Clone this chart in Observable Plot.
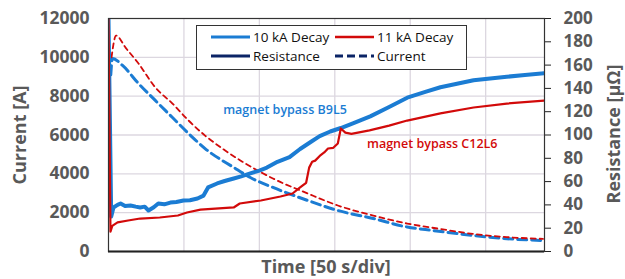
<!DOCTYPE html>
<html><head><meta charset="utf-8">
<script src="https://cdn.jsdelivr.net/npm/d3@7"></script>
<script src="https://cdn.jsdelivr.net/npm/@observablehq/plot@0.6"></script>
<style>
body{margin:0;background:#fff;}
#chart{position:relative;width:625px;height:279px;font-family:"Open Sans",sans-serif;}
</style></head><body><div id="chart"></div>
<script>
// Time in seconds (50 s per division)
const tBlueCur = [1.5, 2.6, 9.3, 19.9, 31, 42.4, 53, 64, 83, 94, 109, 132, 152, 175.5, 198, 215, 242, 264, 288];
const blueCur  = [9100, 9940, 9580, 8650, 7780, 6900, 6080, 5300, 4330, 3810, 3300, 2630, 2110, 1700, 1260, 1080, 824, 660, 567];

const tRedCur = [2, 5, 11.3, 19.9, 31, 42.4, 53, 64, 75.5, 87.4, 109, 132, 152, 175.5, 198, 220, 242, 264, 288];
const redCur  = [10000, 11120, 10500, 9680, 8450, 7620, 6750, 5970, 5300, 4690, 3760, 2990, 2370, 1850, 1440, 1160, 900, 740, 650];

// Resistance in micro-ohm
const tBlueRes = [0, 1.8, 3.3, 6, 8, 11, 14.6, 18, 21, 24, 26.5, 30, 33, 37, 41, 45, 49.7, 54, 59, 63, 66, 72, 77, 83, 88, 94, 100, 105, 112, 120, 127, 134, 140, 147, 154, 162, 173.5, 186, 198, 210, 220, 231, 242, 253, 264, 276, 289];
const blueRes  = [200, 30, 37.8, 40, 41.2, 39, 39.5, 38.5, 37.8, 38.5, 35.2, 38, 41.2, 40.5, 42, 42.5, 43.8, 44, 45.5, 48, 55, 58.4, 60.5, 62.7, 64.5, 67, 69.5, 72, 77, 81, 88, 94, 99, 103, 106, 110, 116, 124, 132, 137, 141, 144, 147, 148.5, 150, 151.5, 153];

const tRedRes = [0, 1.3, 2.5, 6, 13, 21, 34, 46, 52, 61, 83, 87, 101, 114, 122, 127, 131, 133, 135, 137, 140, 143, 145.5, 149, 152, 154, 157, 161, 173, 186, 198, 220, 242, 264, 289];
const redRes  = [200, 17, 22, 25, 26.6, 28.3, 29.2, 30.9, 33.5, 36, 37.8, 41.2, 43.8, 47.2, 49.8, 55, 59, 72, 77, 78, 82, 85, 88.4, 89, 92.7, 105.6, 102, 101, 104, 108, 112.4, 118.5, 123.6, 127, 129.6];

const currentTicks = [0, 2000, 4000, 6000, 8000, 10000, 12000];
const resistanceTicks = [0, 20, 40, 60, 80, 100, 120, 140, 160, 180, 200];
const timeGrid = [50, 100, 150, 200, 250];
const legendLabels = ["10 kA Decay", "11 kA Decay", "Resistance", "Current"];
const annotations = ["magnet bypass B9L5", "magnet bypass C12L6"];

const K = 12000 / 200; // resistance -> current scale factor
const BLUE = "#1b7cd3", RED = "#d20a0a", NAVY = "#0b2466", GRAY = "#595959";

const rows = (ts, vs, f = 1) => ts.map((t, i) => ({t, v: vs[i] * f}));

const plot = Plot.plot({
  width: 625, height: 279,
  marginLeft: 108, marginRight: 81, marginTop: 18, marginBottom: 28,
  style: {fontFamily: "'Open Sans', sans-serif", background: "#fff"},
  x: {domain: [0, 289], axis: null},
  y: {domain: [0, 12000], axis: null},
  marks: [
    Plot.gridX(timeGrid, {stroke: "#dcd7e0", strokeOpacity: 1, strokeWidth: 1.3}),
    Plot.gridY(currentTicks.slice(1, -1), {stroke: "#dcd7e0", strokeOpacity: 1, strokeWidth: 1.3}),
    Plot.line(rows(tBlueCur, blueCur), {x: "t", y: "v", stroke: BLUE, strokeWidth: 3, strokeDasharray: "9,5", curve: "monotone-x"}),
    Plot.line(rows(tRedCur, redCur), {x: "t", y: "v", stroke: RED, strokeWidth: 1.8, strokeDasharray: "5,4", curve: "monotone-x"}),
    Plot.line(rows(tBlueRes, blueRes, K), {x: "t", y: "v", stroke: BLUE, strokeWidth: 4, clip: true}),
    Plot.line(rows(tRedRes, redRes, K), {x: "t", y: "v", stroke: RED, strokeWidth: 2.2, clip: true}),
    Plot.frame({stroke: "#333", strokeWidth: 1.2}),
    Plot.ruleY([0], {stroke: "#222", strokeWidth: 2}),
    Plot.axisY(currentTicks, {anchor: "left", tickSize: 0, tickPadding: 19, label: null,
      fill: GRAY, fontSize: 17.5, fontWeight: "bold", tickFormat: d => String(d)}),
    Plot.axisY(resistanceTicks.map(r => r * K), {anchor: "right", tickSize: 6, tickPadding: 13, label: null,
      stroke: "#222", fill: GRAY, fontSize: 17, fontWeight: "bold", tickFormat: d => String(Math.round(d / K))}),
    Plot.text([{t: 117, v: 7262, s: annotations[0]}], {x: "t", y: "v", text: "s", fill: BLUE, fontSize: 12.5, fontWeight: 600}),
    Plot.text([{t: 214.6, v: 5511, s: annotations[1]}], {x: "t", y: "v", text: "s", fill: RED, fontSize: 12.5, fontWeight: 600})
  ]
});

document.getElementById("chart").appendChild(plot);
const svg = d3.select(plot);

// Axis titles
svg.append("text").attr("transform", "translate(20,135) rotate(-90)").attr("dy", "0.35em")
  .attr("text-anchor", "middle").attr("fill", GRAY).attr("font-size", 18).attr("font-weight", "bold")
  .text("Current [A]");
svg.append("text").attr("transform", "translate(614,134) rotate(-90)").attr("dy", "0.35em")
  .attr("text-anchor", "middle").attr("fill", GRAY).attr("font-size", 18).attr("font-weight", "bold")
  .text("Resistance [μΩ]");
svg.append("text").attr("x", 326).attr("y", 273)
  .attr("text-anchor", "middle").attr("fill", GRAY).attr("font-size", 18).attr("font-weight", "bold")
  .text("Time [50 s/div]");

// Legend
const lg = svg.append("g");
lg.append("rect").attr("x", 196.5).attr("y", 25.5).attr("width", 270).attr("height", 44)
  .attr("fill", "#fff").attr("stroke", "#333").attr("stroke-width", 1);
const items = [
  {x: 211, y: 37, c: BLUE, w: 3, dash: null, label: legendLabels[0]},
  {x: 335, y: 37, c: RED, w: 2.5, dash: null, label: legendLabels[1]},
  {x: 211, y: 56, c: NAVY, w: 3, dash: null, label: legendLabels[2]},
  {x: 335, y: 56, c: NAVY, w: 3, dash: "8,4", label: legendLabels[3]}
];
for (const it of items) {
  lg.append("line").attr("x1", it.x).attr("x2", it.x + 39).attr("y1", it.y).attr("y2", it.y)
    .attr("stroke", it.c).attr("stroke-width", it.w).attr("stroke-dasharray", it.dash);
  lg.append("text").attr("x", it.x + 42).attr("y", it.y).attr("dy", "0.35em").attr("text-anchor", "start")
    .attr("font-size", 13.5).attr("fill", "#111").text(it.label);
}
</script></body></html>
